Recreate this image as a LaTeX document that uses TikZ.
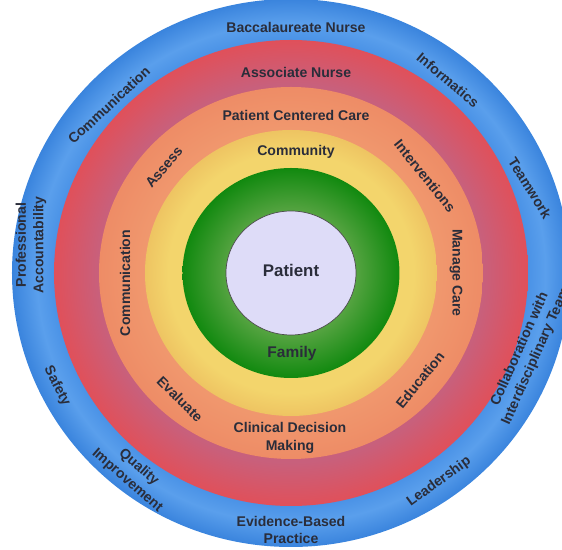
\documentclass[tikz,border=0pt]{standalone}
\usepackage{fontspec}
\setsansfont{Liberation Sans}
\usepackage{tikz}
\usetikzlibrary{shadings}

\definecolor{bluein}{HTML}{4A92E6}
\definecolor{bluemid}{HTML}{5A9FEC}
\definecolor{blueout}{HTML}{3A84DD}
\definecolor{redin}{HTML}{C8607C}
\definecolor{redout}{HTML}{E0505A}
\definecolor{salmonin}{HTML}{F0986E}
\definecolor{salmonout}{HTML}{EE8C66}
\definecolor{yellowin}{HTML}{F3D56C}
\definecolor{yellowout}{HTML}{EEC462}
\definecolor{greenin}{HTML}{54A340}
\definecolor{greenout}{HTML}{11890F}
\definecolor{patientfill}{HTML}{DEDCF8}
\definecolor{labeltext}{HTML}{2A2D3A}

\pgfdeclareradialshading{blueband}{\pgfpointorigin}{color(0bp)=(bluein); color(21.2bp)=(bluein); color(22.8bp)=(bluemid); color(25bp)=(blueout); color(50bp)=(blueout)}
\pgfdeclareradialshading{redband}{\pgfpointorigin}{color(0bp)=(redin); color(20.3bp)=(redin); color(25bp)=(redout); color(50bp)=(redout)}
\pgfdeclareradialshading{salmonband}{\pgfpointorigin}{color(0bp)=(salmonin); color(19bp)=(salmonin); color(25bp)=(salmonout); color(50bp)=(salmonout)}
\pgfdeclareradialshading{yellowband}{\pgfpointorigin}{color(0bp)=(yellowin); color(18.6bp)=(yellowin); color(21bp)=(yellowin); color(25bp)=(yellowout); color(50bp)=(yellowout)}
\pgfdeclareradialshading{greenband}{\pgfpointorigin}{color(0bp)=(greenin); color(15bp)=(greenin); color(25bp)=(greenout); color(50bp)=(greenout)}

\begin{document}
\begin{tikzpicture}[x=0.025cm, y=0.025cm,
      lbl/.style={font=\sffamily\bfseries\fontsize{10}{12.5}\selectfont,
        text=labeltext, align=center, inner sep=0pt},
      big/.style={lbl, font=\sffamily\bfseries\fontsize{12}{14}\selectfont}]

      \useasboundingbox (-291,-277) rectangle (271,273);
      \clip (-291,-277) rectangle (271,273);

      % rings, outside in
      \shade[shading=blueband] (0,0) ellipse [x radius=279, y radius=274];
      \shade[shading=redband] (0,0) ellipse [x radius=237, y radius=233];
      \shade[shading=salmonband] (0,0) ellipse [x radius=192, y radius=186];
      \shade[shading=yellowband] (0,0) ellipse [x radius=146, y radius=143];
      \shade[shading=greenband] (0,0) ellipse [x radius=108.5, y radius=105];
      \draw[fill=patientfill, draw=black!70, line width=0.5pt]
        (0,0) ellipse [x radius=65, y radius=62];

      \node[big] (patient) at (0,3) {Patient};
      \node[lbl, font=\sffamily\bfseries\fontsize{11}{13}\selectfont] (family) at (1,-81) {Family};

      % labels: name / x / y / angle / text
      \foreach \n/\x/\y/\a/\t in {
        bacc/5/246/0/{Baccalaureate Nurse},
        commout/-182/168/43/{Communication},
        info/157/193/-40/{Informatics},
        team/239/85/-58/{Teamwork},
        prof/-260/28/90/{Professional\\Accountability},
        collab/237/-80/66/{Collaboration with\\Interdisciplinary Team},
        safety/-234/-113/-63/{Safety},
        quality/-158/-201/-41/{Quality\\Improvement},
        ebp/0/-257/0/{Evidence-Based\\Practice},
        lead/148/-209/36/{Leadership},
        assoc/5/201/0/{Associate Nurse},
        pcc/5/158/0/{Patient Centered Care},
        assess/-127/106/50/{Assess},
        interv/134/97/-51/{Interventions},
        manage/165/0/-90/{Manage Care},
        educ/129/-107/51/{Education},
        cdm/-1/-165/0/{Clinical Decision\\Making},
        eval/-111/-126/-45/{Evaluate},
        commin/-166/-10/90/{Communication},
        commty/5/121/0/{Community}} {
        \node[lbl, rotate=\a] (\n) at (\x,\y) {\t};
      };
    \end{tikzpicture}
\end{document}
